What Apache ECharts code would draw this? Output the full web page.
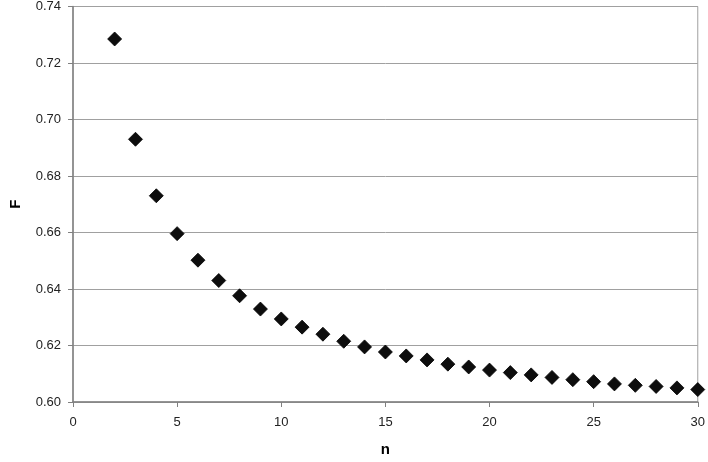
<!DOCTYPE html>
<html>
<head>
<meta charset="utf-8">
<script src="https://cdn.jsdelivr.net/npm/echarts@6/dist/echarts.min.js"></script>
<style>
  html, body { margin: 0; padding: 0; background: #fff; }
  #chart { width: 708px; height: 462px; }
</style>
</head>
<body>
<div id="chart"></div>
<script>
// n values and the F
const nValues = [2, 3, 4, 5, 6, 7, 8, 9, 10, 11, 12, 13, 14, 15, 16,
  17, 18, 19, 20, 21, 22, 23, 24, 25, 26, 27, 28, 29, 30];
const fValues = [0.7285, 0.6930, 0.6730, 0.6596, 0.6502, 0.6430, 0.6376, 0.6329,
  0.6294, 0.6265, 0.6240, 0.6215, 0.6195, 0.6177, 0.6163, 0.6149, 0.6134,
  0.6124, 0.6113, 0.6104, 0.6096, 0.6087, 0.6079, 0.6072, 0.6064, 0.6059,
  0.6055, 0.6050, 0.6044];

const xTicks = { min: 0, max: 30, interval: 5 };
const yTicks = { min: 0.60, max: 0.74, interval: 0.02 };

const points = nValues.map((n, i) => [n, fValues[i]]);

const font = 'Liberation Sans, Arial, Helvetica, sans-serif';

const chart = echarts.init(document.getElementById('chart'));
chart.setOption({
  animation: false,
  grid: {
    left: 64,
    right: 9,
    top: 5,
    bottom: 55,
    show: true,
    borderColor: '#a0a0a0',
    borderWidth: 1,
    backgroundColor: '#fff'
  },
  xAxis: {
    type: 'value',
    min: xTicks.min,
    max: xTicks.max,
    interval: xTicks.interval,
    name: 'n',
    nameLocation: 'middle',
    nameGap: 40,
    nameTextStyle: { fontFamily: font, fontSize: 15, fontWeight: 'bold', color: '#000' },
    axisLine: { show: true, onZero: false, lineStyle: { color: '#808080', width: 1.5 } },
    axisTick: { show: true, inside: false, length: 5, lineStyle: { color: '#808080' } },
    axisLabel: { fontFamily: font, fontSize: 13, color: '#222', margin: 14 },
    splitLine: { show: false }
  },
  yAxis: {
    type: 'value',
    min: yTicks.min,
    max: yTicks.max,
    interval: yTicks.interval,
    name: 'F',
    nameLocation: 'middle',
    nameGap: 50,
    nameRotate: 90,
    nameTextStyle: { fontFamily: font, fontSize: 15, fontWeight: 'bold', color: '#000' },
    axisLine: { show: true, onZero: false, lineStyle: { color: '#808080', width: 1.5 } },
    axisTick: { show: true, inside: false, length: 5, lineStyle: { color: '#808080' } },
    axisLabel: {
      fontFamily: font, fontSize: 13, color: '#222', margin: 12,
      formatter: v => v.toFixed(2)
    },
    splitLine: { show: true, lineStyle: { color: '#a0a0a0', width: 1 } }
  },
  series: [{
    type: 'scatter',
    data: points,
    symbol: 'diamond',
    symbolSize: [14, 14],
    itemStyle: { color: '#0d0d0d', borderColor: '#000', borderWidth: 0.8, opacity: 1 }
  }]
});
</script>
</body>
</html>
